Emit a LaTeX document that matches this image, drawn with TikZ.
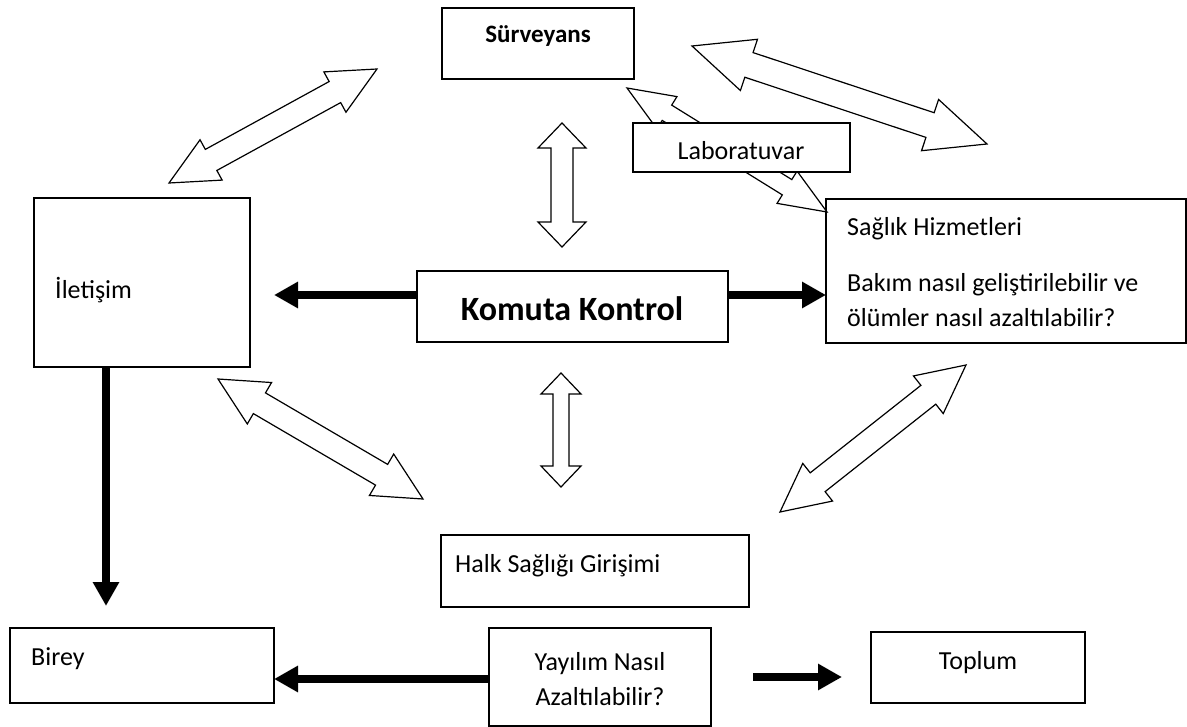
\documentclass[tikz,border=0pt]{standalone}
\usepackage{fontspec}
\setmainfont{Carlito}
\usetikzlibrary{calc,arrows.meta}
\newcommand{\dblarrow}[5]{%
 \draw[hollow] (#1)
 -- ($(#1)!#3!(#2)!#4!90:(#2)$)
 -- ($(#1)!#3!(#2)!#5!90:(#2)$)
 -- ($(#2)!#3!(#1)!#5!-90:(#1)$)
 -- ($(#2)!#3!(#1)!#4!-90:(#1)$)
 -- (#2)
 -- ($(#2)!#3!(#1)!#4!90:(#1)$)
 -- ($(#2)!#3!(#1)!#5!90:(#1)$)
 -- ($(#1)!#3!(#2)!#5!-90:(#2)$)
 -- ($(#1)!#3!(#2)!#4!-90:(#2)$)
 -- cycle;}
\newcommand{\boxnode}[5]{%
 \node[box, minimum width=#4-#2, minimum height=#5-#3] (#1) at ({(#2+#4)/2},{(#3+#5)/2}) {};}
\begin{document}
\begin{tikzpicture}[x=1pt,y=-1pt,
  box/.style={draw, line width=1.5pt, fill=white, inner sep=0pt, outer sep=0pt},
  hollow/.style={draw, line width=1.2pt, fill=white, line join=miter},
  thickarr/.style={line width=7.5pt, -{Triangle[length=24pt,width=25pt]}},
  txt/.style={font=\fontsize{26}{31}\selectfont, inner sep=0pt},
  bold/.style={font=\bfseries\fontsize{25}{30}\selectfont, inner sep=0pt},
  big/.style={font=\bfseries\fontsize{34}{40}\selectfont, inner sep=0pt}]
\useasboundingbox (0,0) rectangle (1187,727);

% tips of the hollow double arrows
\coordinate (tlA) at (169,183); \coordinate (tlB) at (377,69);
\coordinate (trA) at (692,46);  \coordinate (trB) at (987,144);
\coordinate (v1A) at (562,123); \coordinate (v1B) at (562,247);
\coordinate (v2A) at (561,373); \coordinate (v2B) at (561,487);
\coordinate (llA) at (218,379); \coordinate (llB) at (423,499);
\coordinate (lrA) at (966,365); \coordinate (lrB) at (780,512);
\coordinate (slA) at (627,88);  \coordinate (slB) at (827,212);

% boxes
\boxnode{surv}{442}{8}{634}{79}
\boxnode{saglik}{826}{199}{1186}{343}
\boxnode{iletisim}{34}{198}{250}{367}
\boxnode{komuta}{417}{271}{728}{342}
\boxnode{halk}{441}{535}{749}{607}
\boxnode{birey}{10}{628}{274}{703}
\boxnode{yayilim}{489}{628}{711}{726}
\boxnode{toplum}{871}{632}{1085}{703}

% hollow arrows
\dblarrow{tlA}{tlB}{48pt}{23pt}{12pt}
\dblarrow{trA}{trB}{60pt}{27pt}{13pt}
\dblarrow{v1A}{v1B}{25pt}{24pt}{11pt}
\dblarrow{v2A}{v2B}{21pt}{20pt}{8pt}
\dblarrow{llA}{llB}{48pt}{24pt}{12pt}
\dblarrow{lrA}{lrB}{48pt}{24pt}{12pt}
\dblarrow{slA}{slB}{47pt}{19pt}{9pt}

% Laboratuvar on top of the arrow
\boxnode{lab}{633}{123}{850}{172}

% texts
\node[bold, anchor=base] (survt) at (538,43) {Sürveyans};
\node[txt, anchor=base] (labt) at (741,160) {Laboratuvar};
\node[txt, anchor=base west] (s1) at (847,236) {Sağlık Hizmetleri};
\node[txt, anchor=base west] (s2) at (847,292) {Bakım nasıl geliştirilebilir ve};
\node[txt, anchor=base west] (s3) at (847,327) {ölümler nasıl azaltılabilir?};
\node[txt, anchor=base west] (ilt) at (55,299) {İletişim};
\node[big, anchor=base] (kt) at (572,321) {Komuta Kontrol};
\node[txt, anchor=base west] (ht) at (455,572) {Halk Sağlığı Girişimi};
\node[txt, anchor=base west] (bt) at (31,665) {Birey};
\node[txt, anchor=base] (y1) at (600,670) {Yayılım Nasıl};
\node[txt, anchor=base] (y2) at (600,705) {Azaltılabilir?};
\node[txt, anchor=base] (tt) at (978,669) {Toplum};

% thick arrows
\coordinate (ky) at (0,295);
\coordinate (kl) at (274,295);
\draw[thickarr] (komuta.west |- ky) -- (kl);
\draw[thickarr] (komuta.east |- ky) -- (saglik.west |- ky);
\coordinate (dn) at (106,606);
\draw[thickarr] (iletisim.south -| dn) -- (dn);
\coordinate (by) at (0,679);
\draw[thickarr] (yayilim.west |- by) -- (birey.east |- by);
\coordinate (ta1) at (753,677);
\coordinate (ta2) at (842,677);
\draw[thickarr] (ta1) -- (ta2);
\end{tikzpicture}
\end{document}
